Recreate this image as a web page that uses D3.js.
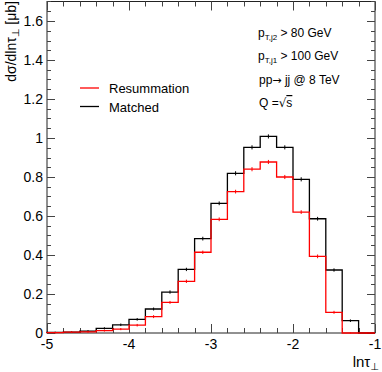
<!DOCTYPE html>
<html>
<head>
<meta charset="utf-8">
<script src="https://cdn.jsdelivr.net/npm/d3@7/dist/d3.min.js"></script>
<style>
  html, body { margin: 0; padding: 0; background: #fff; }
  svg { display: block; font-family: "Liberation Sans", Arial, Helvetica, sans-serif; }
  .tick-label { font-size: 14px; fill: #000; }
  .note { font-size: 12px; fill: #000; }
  .legend-text { font-size: 13px; fill: #000; }
  .sym { font-family: "DejaVu Sans", sans-serif; }
</style>
</head>
<body>
<svg id="chart" width="382" height="372"></svg>
<script>
// bin edges of ln(tau_perp), 0.2 wide from -5 to -1
const binEdges = d3.range(21).map((i) => -5 + i * 0.2);

// Matched (black) and Resummation (red), per bin
const matched = [0.003, 0.005, 0.010, 0.024, 0.042, 0.070, 0.123, 0.210, 0.326, 0.484,
                 0.665, 0.819, 0.952, 1.008, 0.952, 0.788, 0.586, 0.323, 0.063, 0.0];
const resummation = [0.002, 0.004, 0.006, 0.012, 0.020, 0.040, 0.084, 0.157, 0.265, 0.414,
                     0.583, 0.725, 0.840, 0.877, 0.800, 0.620, 0.393, 0.106, 0.0, 0.0];
const matchedErr = [0.001, 0.001, 0.002, 0.003, 0.004, 0.004, 0.005, 0.006, 0.006, 0.007,
                    0.007, 0.008, 0.008, 0.008, 0.008, 0.008, 0.007, 0.006, 0.004, 0.0];
const resumErr = [0.001, 0.001, 0.002, 0.002, 0.003, 0.004, 0.005, 0.005, 0.006, 0.006,
                  0.007, 0.007, 0.008, 0.008, 0.008, 0.007, 0.007, 0.005, 0.0, 0.0];

const xTicks = [-5, -4, -3, -2, -1];
const yTicks = [0, 0.2, 0.4, 0.6, 0.8, 1, 1.2, 1.4, 1.6];

const legendItems = [
  { label: "Resummation", color: "#ff0000" },
  { label: "Matched", color: "#000000" },
];

const padL = 47, padR = 375, padT = 1.5, padB = 333;

const svg = d3.select("#chart");
const x = d3.scaleLinear().domain([-5, -1]).range([padL, padR]);
const y = d3.scaleLinear().domain([0, 1.7]).range([padB, padT]);

// frame
svg.append("rect")
  .attr("x", padL).attr("y", padT)
  .attr("width", padR - padL).attr("height", padB - padT)
  .attr("fill", "none").attr("stroke", "#222").attr("stroke-width", 1);

// ticks (ROOT style, pointing inward on all four sides)
const tickG = svg.append("g").attr("stroke", "#444").attr("stroke-width", 1);
const xMinor = d3.range(0, 21).map((i) => -5 + i * 0.2);
xMinor.forEach((v) => {
  const major = Math.abs(v - Math.round(v)) < 1e-6;
  const len = major ? 9 : 5;
  const px = Math.round(x(v)) + 0.5;
  tickG.append("line").attr("x1", px).attr("x2", px).attr("y1", padB).attr("y2", padB - len);
  tickG.append("line").attr("x1", px).attr("x2", px).attr("y1", padT).attr("y2", padT + len);
});
const yMinor = d3.range(0, 35).map((i) => i * 0.05);
yMinor.forEach((v, i) => {
  const len = i % 4 === 0 ? 8 : 4;
  const py = Math.round(y(v)) + 0.5;
  tickG.append("line").attr("x1", padL).attr("x2", padL + len).attr("y1", py).attr("y2", py);
  tickG.append("line").attr("x1", padR).attr("x2", padR - len).attr("y1", py).attr("y2", py);
});

// tick labels
svg.append("g").selectAll("text").data(yTicks).join("text")
  .attr("class", "tick-label")
  .attr("x", 43).attr("y", (d) => y(d) + 5)
  .attr("text-anchor", "end")
  .text((d) => d3.format("")(d));
svg.append("g").selectAll("text").data(xTicks).join("text")
  .attr("class", "tick-label")
  .attr("x", (d) => x(d)).attr("y", 348.5)
  .attr("text-anchor", "middle")
  .text((d) => d);

// axis titles
const yTitle = svg.append("text")
  .attr("transform", "translate(16,1) rotate(-90)")
  .attr("text-anchor", "end")
  .attr("font-size", 14);
yTitle.append("tspan").text("dσ/dlnτ");
yTitle.append("tspan").attr("class", "sym").attr("font-size", 10).attr("dy", 3).text("\u22A5");
yTitle.append("tspan").attr("dy", -3).text(" [μb]");

const xTitle = svg.append("text")
  .attr("x", 379).attr("y", 366.5)
  .attr("text-anchor", "end")
  .attr("font-size", 15);
xTitle.append("tspan").text("lnτ");
xTitle.append("tspan").attr("class", "sym").attr("font-size", 10).attr("dy", 3).text("\u22A5");

// histograms
function histPath(vals) {
  const pts = [[binEdges[0], 0]];
  vals.forEach((v, i) => {
    pts.push([binEdges[i], v]);
    pts.push([binEdges[i + 1], v]);
  });
  pts.push([binEdges[binEdges.length - 1], 0]);
  return d3.line().x((d) => x(d[0])).y((d) => y(d[1]))(pts);
}

function drawHist(vals, errs, color) {
  svg.append("path")
    .attr("d", histPath(vals))
    .attr("fill", "none")
    .attr("stroke", color)
    .attr("stroke-width", 1.3);
  svg.append("g").selectAll("line").data(vals).join("line")
    .attr("x1", (d, i) => x((binEdges[i] + binEdges[i + 1]) / 2))
    .attr("x2", (d, i) => x((binEdges[i] + binEdges[i + 1]) / 2))
    .attr("y1", (d, i) => y(d - errs[i]) + 0.5)
    .attr("y2", (d, i) => y(d + errs[i]) - 0.5)
    .attr("stroke", color)
    .attr("stroke-width", 1);
}

drawHist(matched, matchedErr, "#000000");
drawHist(resummation, resumErr, "#ff0000");

// legend
const legend = svg.append("g");
legendItems.forEach((d, i) => {
  const ly = 88 + i * 18.5;
  legend.append("line")
    .attr("x1", 80).attr("x2", 99).attr("y1", ly).attr("y2", ly)
    .attr("stroke", d.color).attr("stroke-width", 1.3);
  legend.append("text").attr("class", "legend-text")
    .attr("x", 109).attr("y", ly + 5).text(d.label);
});

// annotation block, top right
const notes = svg.append("g").attr("class", "note");
const n1 = notes.append("text").attr("x", 258).attr("y", 36.5);
n1.append("tspan").text("p");
n1.append("tspan").attr("font-size", 8).attr("dy", 3).text("T,j2");
n1.append("tspan").attr("dy", -3).text(" > 80 GeV");
const n2 = notes.append("text").attr("x", 258).attr("y", 59.5);
n2.append("tspan").text("p");
n2.append("tspan").attr("font-size", 8).attr("dy", 3).text("T,j1");
n2.append("tspan").attr("dy", -3).text(" > 100 GeV");
const n3 = notes.append("text").attr("x", 259).attr("y", 83.5);
n3.append("tspan").text("pp");
n3.append("tspan").attr("class", "sym").attr("font-size", 11).text("\u2192");
n3.append("tspan").text(" jj @ 8 TeV");
const n4 = notes.append("text").attr("x", 259).attr("y", 107);
n4.append("tspan").text("Q =");
n4.append("tspan").attr("class", "sym").attr("font-size", 12).text("\u221A");
n4.append("tspan").style("text-decoration", "overline").text("s");
</script>
</body>
</html>
